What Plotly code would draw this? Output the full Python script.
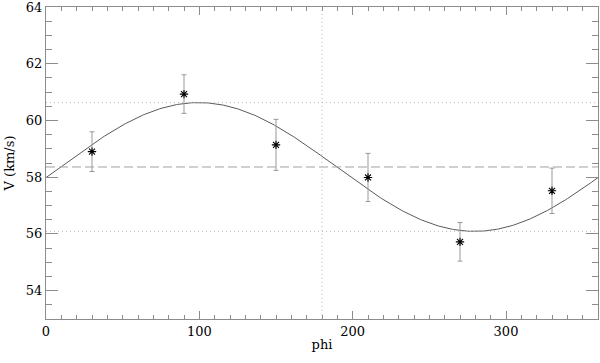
import numpy as np
import plotly.graph_objects as go

# measured points
phi = [30, 90, 150, 210, 270, 330]
v = [58.9, 60.93, 59.14, 57.99, 55.72, 57.52]
v_err = [0.7, 0.68, 0.9, 0.85, 0.68, 0.8]

# fitted sine curve parameters (mean, amplitude, phase of maximum)
v_mean = 58.36
v_amp = 2.27
phi_max = 99.5
phi_mark = 180

x_ticks = [0, 100, 200, 300]
y_ticks = [54, 56, 58, 60, 62, 64]

phi_fit = np.linspace(0, 360, 361)
v_fit = v_mean + v_amp * np.cos(np.radians(phi_fit - phi_max))

axis_col = "#8c8c8c"
font = dict(family="DejaVu Serif", size=13, color="black")

fig = go.Figure()
fig.add_trace(go.Scatter(x=phi_fit, y=v_fit, mode="lines",
                         line=dict(color="#5a5a5a", width=1), hoverinfo="skip"))
fig.add_trace(go.Scatter(
    x=phi, y=v, mode="markers",
    marker=dict(symbol="asterisk-open", size=7, color="black",
                line=dict(color="black", width=1.1)),
    error_y=dict(type="data", array=v_err, color="#999999", thickness=1, width=2.5),
))

# reference lines
fig.add_hline(y=v_mean, line=dict(color="#a0a0a0", width=1, dash="9px,4px"))
fig.add_hline(y=v_mean + v_amp, line=dict(color="#bbbbbb", width=1, dash="1px,3px"))
fig.add_hline(y=v_mean - v_amp, line=dict(color="#bbbbbb", width=1, dash="1px,3px"))
fig.add_vline(x=phi_mark, line=dict(color="#bbbbbb", width=1, dash="1px,3px"))

fig.update_xaxes(range=[0, 360], tickvals=x_ticks, ticks="inside", ticklen=8,
                 tickcolor=axis_col, showline=True, linecolor=axis_col, mirror="ticks",
                 showgrid=False, zeroline=False, automargin=False,
                 ticklabeloverflow="allow",
                 minor=dict(dtick=10, ticks="inside", ticklen=4, tickcolor=axis_col),
                 title=dict(text="phi", font=font, standoff=2), tickfont=font)
fig.update_yaxes(range=[53, 64], tickvals=y_ticks, ticks="inside", ticklen=12,
                 tickcolor=axis_col, showline=True, linecolor=axis_col, mirror="ticks",
                 showgrid=False, zeroline=False, automargin=False,
                 ticklabeloverflow="allow",
                 minor=dict(dtick=0.5, ticks="inside", ticklen=6, tickcolor=axis_col),
                 title=dict(text="V (km/s)", font=font, standoff=8), tickfont=font)

fig.update_layout(width=600, height=363, margin=dict(l=46, r=2, t=7, b=44),
                  font=font, plot_bgcolor="white", paper_bgcolor="white",
                  showlegend=False)

fig.write_html("out.html", config={"displayModeBar": False},
               post_script="document.body.style.margin='0';"
                           "document.body.style.overflow='hidden';")
